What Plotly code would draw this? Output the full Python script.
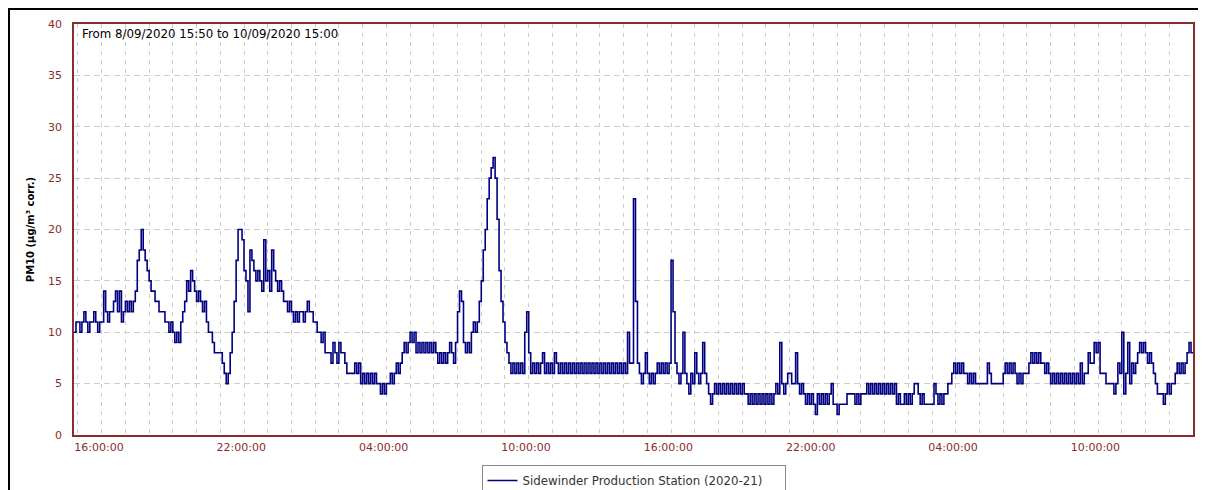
import pandas as pd
import plotly.graph_objects as go

# ---- data (5-minute PM10 readings) ----
start_time = "2020-09-08 15:50"
end_time = "2020-09-10 15:00"
series_name = "Sidewinder Production Station (2020-21)"
title_text = "From 8/09/2020 15:50 to 10/09/2020 15:00"
y_title = "PM10 (µg/m³ corr.)"

pm10_sep08 = [
    10, 11,
    11, 10, 11, 12, 11, 10, 11, 11, 12, 11, 10, 11,   # 16h
    11, 14, 12, 11, 12, 12, 13, 14, 12, 14, 11, 12,   # 17h
    13, 12, 13, 12, 13, 14, 17, 18, 20, 18, 17, 16,   # 18h
    15, 14, 14, 13, 13, 12, 12, 12, 11, 11, 10, 11,   # 19h
    10, 9, 10, 9, 11, 12, 13, 15, 14, 16, 15, 14,     # 20h
    13, 14, 13, 12, 13, 11, 10, 10, 9, 8, 8, 8,       # 21h
    8, 7, 6, 5, 6, 8, 10, 13, 17, 20, 20, 19,         # 22h
    16, 15, 12, 18, 17, 16, 15, 16, 15, 14, 19, 15,   # 23h
]

pm10_sep09 = [
    16, 14, 18, 16, 15, 14, 15, 14, 13, 13, 12, 13,   # 00h
    12, 11, 12, 11, 12, 12, 11, 12, 13, 12, 12, 11,   # 01h
    11, 10, 10, 9, 10, 8, 8, 8, 7, 9, 8, 7,           # 02h
    9, 8, 8, 7, 6, 6, 6, 6, 7, 6, 7, 5,               # 03h
    6, 5, 6, 5, 6, 5, 6, 5, 5, 4, 5, 4,               # 04h
    5, 5, 6, 5, 6, 7, 6, 7, 8, 9, 8, 9,               # 05h
    10, 9, 10, 8, 9, 8, 9, 8, 9, 8, 9, 8,             # 06h
    9, 8, 7, 8, 7, 8, 7, 8, 9, 8, 7, 9,               # 07h
    12, 14, 13, 9, 8, 9, 8, 10, 11, 10, 11, 13,       # 08h
    15, 18, 20, 23, 25, 26, 27, 25, 21, 16, 13, 11,   # 09h
    9, 8, 7, 6, 7, 6, 7, 6, 7, 6, 10, 12,             # 10h
    8, 6, 7, 6, 7, 6, 7, 8, 6, 7, 6, 7,               # 11h
    6, 8, 7, 6, 7, 6, 7, 6, 7, 6, 7, 6,               # 12h
    7, 6, 7, 6, 7, 6, 7, 6, 7, 6, 7, 6,               # 13h
    7, 6, 7, 6, 7, 6, 7, 6, 7, 6, 7, 6,               # 14h
    7, 6, 10, 7, 7, 23, 13, 7, 6, 5, 6, 8,            # 15h
    6, 5, 6, 5, 6, 7, 6, 7, 6, 7, 6, 7,               # 16h
    17, 12, 7, 6, 5, 6, 10, 6, 5, 4, 6, 5,            # 17h
    8, 6, 5, 6, 9, 6, 5, 4, 3, 4, 5, 4,               # 18h
    5, 4, 5, 4, 5, 4, 5, 4, 5, 4, 5, 4,               # 19h
    5, 4, 4, 3, 4, 3, 4, 3, 4, 3, 4, 3,               # 20h
    4, 3, 4, 3, 4, 5, 4, 9, 5, 4, 5, 6,               # 21h
    6, 5, 5, 8, 5, 4, 5, 4, 3, 4, 3, 4,               # 22h
    3, 2, 4, 3, 4, 3, 4, 3, 4, 5, 3, 3,               # 23h
]

pm10_sep10 = [
    2, 3, 3, 3, 3, 4, 4, 4, 4, 3, 4, 3,               # 00h
    4, 4, 4, 5, 4, 5, 4, 5, 4, 5, 4, 5,               # 01h
    4, 5, 4, 5, 4, 5, 3, 4, 3, 3, 4, 3,               # 02h
    4, 3, 4, 5, 5, 4, 3, 4, 3, 3, 3, 3,               # 03h
    3, 5, 4, 3, 4, 3, 4, 4, 5, 5, 6, 7,               # 04h
    6, 7, 6, 7, 6, 6, 5, 6, 5, 6, 5, 5,               # 05h
    5, 5, 5, 5, 7, 6, 5, 5, 5, 5, 5, 5,               # 06h
    6, 7, 6, 7, 6, 7, 6, 5, 6, 5, 6, 6,               # 07h
    6, 7, 8, 7, 8, 7, 8, 7, 7, 6, 7, 6,               # 08h
    5, 6, 5, 6, 5, 6, 5, 6, 5, 6, 5, 6,               # 09h
    5, 6, 5, 7, 5, 6, 6, 8, 7, 7, 9, 8,               # 10h
    9, 6, 6, 6, 5, 5, 5, 5, 4, 5, 7, 6,               # 11h
    10, 4, 6, 9, 5, 7, 6, 7, 8, 9, 8, 9,              # 12h
    8, 7, 8, 7, 6, 5, 4, 4, 4, 3, 4, 5,               # 13h
    4, 5, 5, 6, 7, 6, 7, 6, 7, 8, 9, 8,               # 14h
    8,                                                # 15:00
]

y_ticks = [0, 5, 10, 15, 20, 25, 30, 35, 40]

values = pm10_sep08 + pm10_sep09 + pm10_sep10
times = pd.date_range(start_time, end_time, freq="5min")
assert len(times) == len(values), (len(times), len(values))

axis_color = "#8B2C2C"
grid_color = "#CDCDCD"
font_family = "DejaVu Sans"

# The page body adds an 8px offset, so the figure is 8px smaller than the window.
fig_w, fig_h = 1198, 482
m_l, m_r, m_t, m_b = 66, 13, 16, 55
plot_w = fig_w - m_l - m_r
plot_h = fig_h - m_t - m_b
plot_left_win, plot_bottom_win = 8 + m_l, 8 + fig_h - m_b

fig = go.Figure()
fig.add_trace(go.Scatter(
    x=times, y=values, mode="lines", name=series_name,
    line=dict(color="#000080", width=1.6, shape="hv"),
    showlegend=True,
))

fig.update_layout(
    width=fig_w, height=fig_h,
    margin=dict(l=m_l, r=m_r, t=m_t, b=m_b, autoexpand=False),
    paper_bgcolor="white", plot_bgcolor="white",
    font=dict(family=font_family, size=11, color=axis_color),
    showlegend=True,
    legend=dict(
        orientation="h", x=0.5, xanchor="center", y=-30 / plot_h, yanchor="top",
        bordercolor="#8A8A8A", borderwidth=1, bgcolor="white",
        font=dict(family=font_family, size=11.8, color="#333333"),
        itemwidth=30, entrywidth=257, entrywidthmode="pixels",
    ),
    xaxis=dict(
        type="date",
        range=[start_time, end_time],
        tickformat="%H:%M:%S",
        tick0="2020-09-08 16:00",
        dtick=6 * 3600 * 1000,
        showgrid=True, gridcolor=grid_color, griddash="4px,5px", gridwidth=1,
        minor=dict(dtick=3600 * 1000, tick0="2020-09-08 16:00", showgrid=True,
                   gridcolor=grid_color, griddash="4px,5px", gridwidth=1),
        showline=True, linecolor=axis_color, linewidth=1.5, mirror=True,
        ticks="", ticklabelshift=21, ticklabelstandoff=1,
        tickfont=dict(family=font_family, size=11, color=axis_color),
        zeroline=False,
    ),
    yaxis=dict(
        range=[0, 40], tickvals=y_ticks,
        showgrid=True, gridcolor=grid_color, griddash="6px,4px", gridwidth=1,
        showline=True, linecolor=axis_color, linewidth=1.5, mirror=True,
        ticks="", ticklabelstandoff=8,
        tickfont=dict(family=font_family, size=11, color=axis_color),
        zeroline=False,
        title=dict(text="<b>" + y_title + "</b>", standoff=12,
                   font=dict(family=font_family, size=10, color="black")),
    ),
    annotations=[dict(
        text=title_text, xref="paper", yref="paper", x=0, y=1,
        xanchor="left", yanchor="top", xshift=6, yshift=-1, showarrow=False,
        font=dict(family=font_family, size=11.8, color="black"),
    )],
    shapes=[dict(
        type="rect", xref="paper", yref="paper",
        x0=(9 - plot_left_win) / plot_w, x1=(1200 - plot_left_win) / plot_w,
        y0=(plot_bottom_win - 520) / plot_h, y1=(plot_bottom_win - 9) / plot_h,
        line=dict(color="black", width=2), fillcolor="rgba(0,0,0,0)", layer="above",
    )],
)

fig.write_html("out.html", config={"displayModeBar": False})
